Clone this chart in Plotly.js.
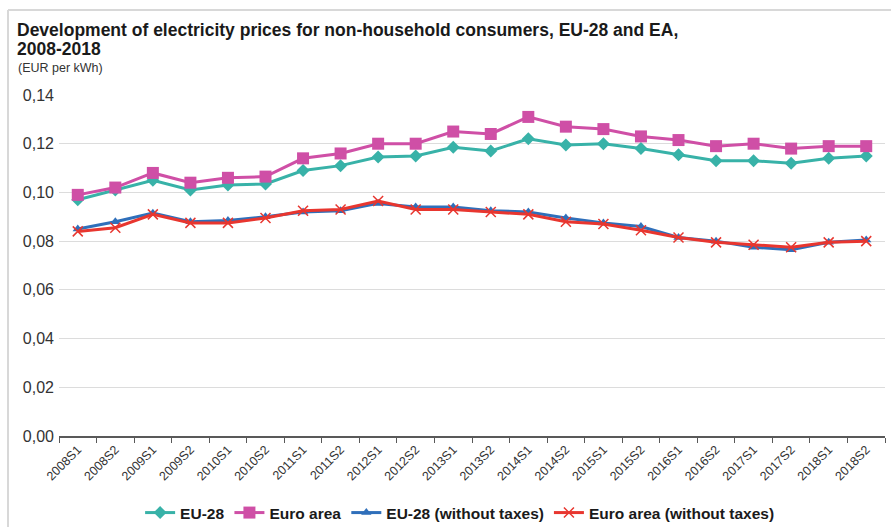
<!DOCTYPE html>
<html>
<head>
<meta charset="utf-8">
<script src="https://cdn.plot.ly/plotly-3.0.1.min.js"></script>
<style>html,body{margin:0;padding:0;background:#fff;}#chart{width:891px;height:527px;}</style>
</head>
<body>
<div id="chart"></div>
<script>
const periods = ["2008S1","2008S2","2009S1","2009S2","2010S1","2010S2","2011S1","2011S2","2012S1","2012S2","2013S1","2013S2","2014S1","2014S2","2015S1","2015S2","2016S1","2016S2","2017S1","2017S2","2018S1","2018S2"];
const eu28 = [0.097,0.101,0.105,0.101,0.103,0.1035,0.109,0.111,0.1145,0.115,0.1185,0.117,0.122,0.1195,0.120,0.118,0.1155,0.113,0.113,0.112,0.114,0.115];
const euroArea = [0.099,0.102,0.108,0.104,0.106,0.1065,0.114,0.116,0.120,0.120,0.125,0.124,0.131,0.127,0.126,0.123,0.1215,0.119,0.120,0.118,0.119,0.119];
const eu28NoTax = [0.085,0.088,0.0915,0.088,0.0885,0.090,0.092,0.0925,0.0955,0.094,0.094,0.0925,0.092,0.0895,0.0875,0.086,0.0815,0.080,0.0775,0.0765,0.0795,0.0805];
const euroAreaNoTax = [0.084,0.0855,0.091,0.0875,0.0875,0.0895,0.0925,0.093,0.0965,0.093,0.093,0.092,0.091,0.088,0.087,0.0845,0.0815,0.0795,0.0785,0.0775,0.0795,0.080];
const yTicks = [0,0.02,0.04,0.06,0.08,0.10,0.12,0.14];

const sans = "Arial, 'Liberation Sans', sans-serif";

const traces = [
  {name:"EU-28", x:periods, y:eu28, type:"scatter", mode:"lines+markers",
   line:{color:"#38b2a8", width:3}, marker:{symbol:"diamond", size:10, color:"#38b2a8"}},
  {name:"Euro area", x:periods, y:euroArea, type:"scatter", mode:"lines+markers",
   line:{color:"#cf4fa6", width:3}, marker:{symbol:"square", size:12, color:"#cf4fa6"}},
  {name:"EU-28 (without taxes)", x:periods, y:eu28NoTax, type:"scatter", mode:"lines+markers",
   line:{color:"#2f6fba", width:3}, marker:{symbol:"triangle-up", size:9, color:"#2f6fba"}},
  {name:"Euro area (without taxes)", x:periods, y:euroAreaNoTax, type:"scatter", mode:"lines+markers",
   line:{color:"#e8362f", width:3}, marker:{symbol:"x-thin-open", size:10, color:"#e8362f", line:{width:1.5, color:"#e8362f"}}}
];

const layout = {
  width:891, height:527,
  margin:{l:59, r:6, t:95, b:91, autoexpand:false},
  paper_bgcolor:"#ffffff", plot_bgcolor:"#ffffff",
  separators:", ",
  font:{family:sans, color:"#333333", size:12},
  title:{text:"<b>Development of electricity prices for non-household consumers, EU-28 and EA,</b>",
    xref:"container", yref:"container", x:17/891, xanchor:"left", y:1-29.5/527, yanchor:"middle",
    font:{family:sans, size:17.5, color:"#1a1a1a"}},
  annotations:[
    {text:"<b>2008-2018</b>", xref:"paper", yref:"paper", x:-43/826, y:1+(95-49)/341, xanchor:"left", yanchor:"middle",
     showarrow:false, borderpad:0, font:{family:sans, size:17.5, color:"#1a1a1a"}},
    {text:"(EUR per kWh)", xref:"paper", yref:"paper", x:-42/826, y:1+(95-67.5)/341, xanchor:"left", yanchor:"middle",
     showarrow:false, borderpad:0, font:{family:sans, size:12.5, color:"#333"}}],
  xaxis:{type:"category", range:[-0.5,21.5], tickson:"boundaries", ticks:"outside", ticklen:5, tickcolor:"#595959",
    showline:true, linecolor:"#595959", linewidth:1.5, showgrid:false, tickangle:-45, automargin:false,
    tickfont:{family:sans, size:12.5, color:"#333"}},
  yaxis:{range:[0,0.14], tickvals:yTicks, tickformat:".2f", showgrid:true, gridcolor:"#dcdcdc", gridwidth:1,
    zeroline:false, showline:false, ticks:"", ticklabelstandoff:4, automargin:false,
    tickfont:{family:sans, size:16, color:"#333"}},
  legend:{orientation:"h", x:0.485, xanchor:"center", yref:"container", y:(527-513)/527, yanchor:"middle",
    font:{family:sans, size:15.5, color:"#1a1a1a", weight:"bold"}, itemwidth:30, tracegroupgap:0},
  shapes:[
    {type:"line", xref:"paper", yref:"paper", x0:-51/826, x1:-51/826, y0:1+(95-10)/341, y1:-(527-436)/341, line:{color:"#d8d8d8", width:2}},
    {type:"line", xref:"paper", yref:"paper", x0:-51/826, x1:(891-59)/826, y0:1+(95-10)/341, y1:1+(95-10)/341, line:{color:"#d8d8d8", width:2}}
  ],
  showlegend:true
};

Plotly.newPlot("chart", traces, layout, {displayModeBar:false, staticPlot:true});
</script>
</body>
</html>
